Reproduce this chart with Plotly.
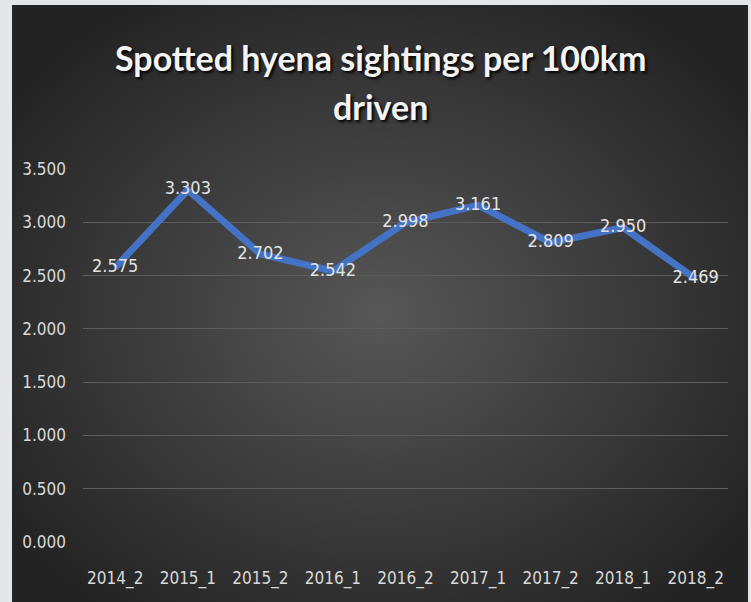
import plotly.graph_objects as go
import urllib.parse

categories = ["2014_2", "2015_1", "2015_2", "2016_1", "2016_2", "2017_1", "2017_2", "2018_1", "2018_2"]
sightings = [2.575, 3.303, 2.702, 2.542, 2.998, 3.161, 2.809, 2.950, 2.469]
y_ticks = [0, 0.5, 1.0, 1.5, 2.0, 2.5, 3.0, 3.5]
y_tick_labels = ["0.000", "0.500", "1.000", "1.500", "2.000", "2.500", "3.000", "3.500"]
title_lines = ["Spotted hyena sightings per 100km", "driven"]

W, H = 751, 602
L, R, T, B = 83, 23, 169, 60
pw, ph = W - L - R, H - T - B

svg = (
    '<svg xmlns="http://www.w3.org/2000/svg" width="736" height="597" viewBox="0 0 736 597" preserveAspectRatio="none">'
    '<defs><radialGradient id="g" cx="50%" cy="52%" r="62%">'
    '<stop offset="0%" stop-color="#575757"/>'
    '<stop offset="100%" stop-color="#232323"/>'
    '</radialGradient></defs>'
    '<rect width="736" height="597" fill="url(#g)"/></svg>'
)
bg_src = "data:image/svg+xml;charset=utf-8," + urllib.parse.quote(svg)

def px_x(x):
    return (x - L) / pw

def px_y(y):
    return (H - B - y) / ph

FONT = "DejaVu Sans Condensed, Liberation Sans, sans-serif"

fig = go.Figure()
fig.add_trace(go.Scatter(
    x=categories, y=sightings,
    mode="lines+text",
    line=dict(color="#4472C4", width=7),
    text=[f"{v:.3f}" for v in sightings],
    textposition="middle center",
    textfont=dict(family=FONT, size=18, color="#e3e3e3"),
    cliponaxis=False,
    hoverinfo="x+y",
))

annotations = []
for line_text, ypix in zip(title_lines, [57, 107]):
    annotations.append(dict(
        text=line_text, showarrow=False,
        xref="paper", yref="paper", x=px_x(380), y=px_y(ypix),
        xanchor="center", yanchor="middle",
        font=dict(family="Lato, Open Sans, sans-serif", size=34, color="#f4f4f4",
                  weight="bold", shadow="2px 2px 3px #000000"),
    ))

fig.update_layout(
    width=W, height=H,
    margin=dict(l=L, r=R, t=T, b=B, autoexpand=False),
    paper_bgcolor="#e5e6ea",
    plot_bgcolor="rgba(0,0,0,0)",
    showlegend=False,
    annotations=annotations,
    images=[dict(
        source=bg_src, xref="paper", yref="paper",
        x=px_x(12), y=px_y(5), sizex=736 / pw, sizey=597 / ph,
        xanchor="left", yanchor="top", sizing="stretch", layer="below",
    )],
    xaxis=dict(
        showgrid=False, showline=False, zeroline=False, automargin=False,
        tickfont=dict(family=FONT, size=17, color="#d9d9d9"),
        ticks="", ticklabelstandoff=24,
    ),
    yaxis=dict(
        range=[0, 3.5], tickvals=y_ticks, ticktext=y_tick_labels,
        showgrid=True, gridcolor="#5c5c5c", gridwidth=1, automargin=False,
        zeroline=False, showline=False,
        tickfont=dict(family=FONT, size=17, color="#d9d9d9"),
        ticks="", ticklabelstandoff=16,
    ),
)

fig.write_html(
    "out.html",
    config={"displayModeBar": False},
    post_script="document.body.style.margin='0';document.body.style.overflow='hidden';",
)
